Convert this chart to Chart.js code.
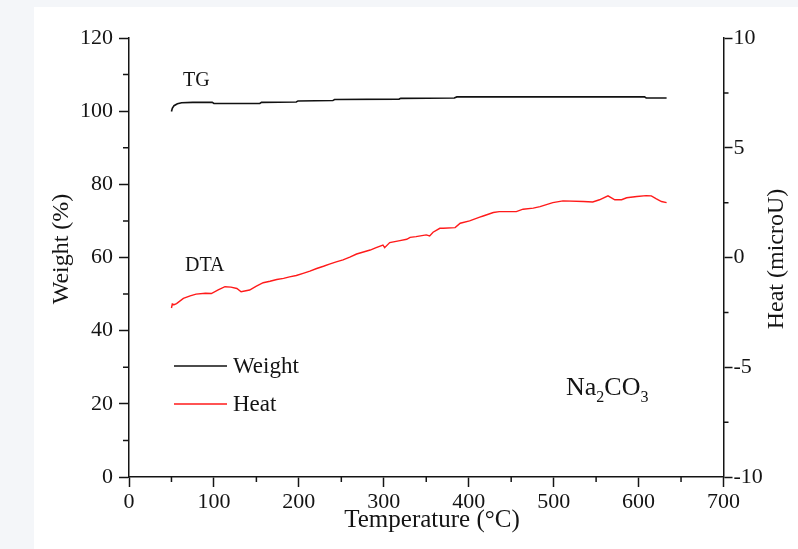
<!DOCTYPE html>
<html>
<head>
<meta charset="utf-8">
<title>TG / DTA of Na2CO3</title>
<script src="https://cdn.jsdelivr.net/npm/chart.js@4.4.1/dist/chart.umd.min.js"></script>
<style>
  html, body { margin: 0; padding: 0; background: #f4f6f9; }
  #wrap { position: relative; width: 798px; height: 549px; }
  canvas { display: block; }
</style>
</head>
<body>
<div id="wrap"><canvas id="chart" width="798" height="549"></canvas></div>
<script>
// Thermogravimetric (weight) trace, temperature in °C
const tgTemp   = [50, 51, 53, 57, 62, 75, 98, 100, 154, 156, 197, 199, 240, 242, 318, 320, 383, 386, 450, 607, 609, 633];
const tgWeight = [99.9, 100.8, 101.5, 102.0, 102.3, 102.4, 102.4, 102.1, 102.1, 102.4, 102.5, 102.8, 102.9, 103.2, 103.3, 103.5, 103.6, 103.9, 103.9, 103.9, 103.6, 103.6];

// Differential thermal analysis (heat flow) trace
const dtaTemp = [50, 51, 53, 56, 64, 72, 79, 90, 97, 105, 113, 120, 127, 132, 142, 150, 158, 166, 174, 182,
  189, 197, 205, 213, 221, 229, 236, 244, 252, 260, 268, 276, 284, 291, 299, 301, 307, 319, 327, 331,
  338, 350, 354, 358, 366, 370, 384, 390, 401, 413, 417, 429, 436, 456, 464, 476, 484, 499, 511, 535,
  546, 554, 564, 572, 580, 586, 598, 609, 615, 621, 627, 633];
const dtaHeat = [-2.3, -2.12, -2.15, -2.1, -1.86, -1.75, -1.67, -1.63, -1.64, -1.48, -1.33, -1.35, -1.41, -1.56, -1.48, -1.3, -1.15, -1.08, -1.0, -0.95,
  -0.88, -0.82, -0.72, -0.62, -0.5, -0.4, -0.3, -0.2, -0.11, 0.02, 0.16, 0.25, 0.34, 0.45, 0.57, 0.45, 0.68, 0.77, 0.83, 0.92,
  0.95, 1.03, 0.98, 1.15, 1.33, 1.33, 1.36, 1.56, 1.67, 1.84, 1.89, 2.05, 2.09, 2.09, 2.2, 2.25, 2.32, 2.5, 2.58, 2.55,
  2.53, 2.63, 2.81, 2.63, 2.63, 2.72, 2.78, 2.82, 2.81, 2.67, 2.55, 2.5];

// Axis tick values
const tempTicks   = [0, 100, 200, 300, 400, 500, 600, 700];
const weightTicks = [0, 20, 40, 60, 80, 100, 120];
const heatTicks   = [-10, -5, 0, 5, 10];

const SERIF = '"Liberation Serif", "Times New Roman", serif';
const INK = '#141414';

const toPoints = (xs, ys) => xs.map((x, i) => ({ x, y: ys[i] }));

// Page background and white panel
const panelPlugin = {
  id: 'panel',
  beforeDraw(chart) {
    const { ctx, width, height } = chart;
    ctx.save();
    ctx.fillStyle = '#f4f6f9';
    ctx.fillRect(0, 0, width, height);
    ctx.fillStyle = '#ffffff';
    ctx.fillRect(34, 7, width - 34, height - 7);
    ctx.restore();
  }
};

// Minor ticks halfway between the labelled ones
const minorTickPlugin = {
  id: 'minorTicks',
  afterDraw(chart) {
    const { ctx, scales } = chart;
    ctx.save();
    ctx.strokeStyle = INK;
    ctx.lineWidth = 1.5;
    ctx.beginPath();
    const x = scales.x, y = scales.y, y2 = scales.y2;
    for (let i = 0; i < tempTicks.length - 1; i++) {
      const px = x.getPixelForValue((tempTicks[i] + tempTicks[i + 1]) / 2);
      ctx.moveTo(px, x.top); ctx.lineTo(px, x.top + 5);
    }
    for (let i = 0; i < weightTicks.length - 1; i++) {
      const py = y.getPixelForValue((weightTicks[i] + weightTicks[i + 1]) / 2);
      ctx.moveTo(y.right, py); ctx.lineTo(y.right - 6, py);
    }
    for (let i = 0; i < heatTicks.length - 1; i++) {
      const py = y2.getPixelForValue((heatTicks[i] + heatTicks[i + 1]) / 2);
      ctx.moveTo(y2.left, py); ctx.lineTo(y2.left + 5, py);
    }
    ctx.stroke();
    ctx.restore();
  }
};

// Axis titles, curve labels, legend and sample name
const textPlugin = {
  id: 'texts',
  afterDraw(chart) {
    const { ctx } = chart;
    ctx.save();
    ctx.fillStyle = INK;

    // axis titles
    ctx.textAlign = 'center';
    ctx.textBaseline = 'middle';
    ctx.font = '25px ' + SERIF;
    ctx.fillText('Temperature (\u00B0C)', 432, 520);
    ctx.font = '24px ' + SERIF;
    ctx.save();
    ctx.translate(62, 249);
    ctx.rotate(-Math.PI / 2);
    ctx.fillText('Weight (%)', 0, 0);
    ctx.restore();
    ctx.save();
    ctx.translate(777, 259);
    ctx.rotate(-Math.PI / 2);
    ctx.fillText('Heat (microU)', 0, 0);
    ctx.restore();

    // curve labels
    ctx.font = '20px ' + SERIF;
    ctx.textAlign = 'left';
    ctx.textBaseline = 'alphabetic';
    ctx.fillText('TG', 183, 86);
    ctx.fillText('DTA', 185, 271);

    // legend
    ctx.font = '23px ' + SERIF;
    ctx.textBaseline = 'middle';
    const rows = [366, 404];
    chart.data.datasets.forEach((ds, i) => {
      ctx.strokeStyle = ds.borderColor;
      ctx.lineWidth = 1.5;
      ctx.beginPath();
      ctx.moveTo(174, rows[i]);
      ctx.lineTo(227, rows[i]);
      ctx.stroke();
      ctx.fillStyle = INK;
      ctx.fillText(ds.label, 233, rows[i] + 1);
    });

    // sample name with subscripts
    ctx.textBaseline = 'alphabetic';
    let cx = 566;
    const base = 395;
    const parts = [['Na', 26, 0], ['2', 16, 7], ['CO', 26, 0], ['3', 16, 7]];
    parts.forEach(([t, size, drop]) => {
      ctx.font = size + 'px ' + SERIF;
      ctx.fillText(t, cx, base + drop);
      cx += ctx.measureText(t).width;
    });
    ctx.restore();
  }
};

const tickFont = { family: SERIF, size: 22 };

new Chart(document.getElementById('chart'), {
  type: 'line',
  data: {
    datasets: [
      {
        label: 'Weight',
        data: toPoints(tgTemp, tgWeight),
        borderColor: '#111111',
        borderWidth: 1.6,
        pointRadius: 0,
        tension: 0,
        yAxisID: 'y'
      },
      {
        label: 'Heat',
        data: toPoints(dtaTemp, dtaHeat),
        borderColor: '#ff1a1a',
        borderWidth: 1.4,
        pointRadius: 0,
        tension: 0,
        yAxisID: 'y2'
      }
    ]
  },
  options: {
    responsive: false,
    animation: false,
    events: [],
    layout: { padding: { top: 38, left: 0, right: 0, bottom: 0 } },
    plugins: { legend: { display: false }, tooltip: { enabled: false } },
    scales: {
      x: {
        type: 'linear',
        min: 0, max: 700,
        afterBuildTicks: s => { s.ticks = tempTicks.map(v => ({ value: v })); },
        afterFit: s => { s.height = 72; },
        border: { display: true, color: INK, width: 1.5 },
        grid: { drawOnChartArea: false, drawTicks: true, tickLength: 10, tickColor: INK, tickWidth: 1.5 },
        ticks: { font: tickFont, color: INK, padding: 2, maxRotation: 0 }
      },
      y: {
        type: 'linear',
        position: 'left',
        min: 0, max: 120,
        afterBuildTicks: s => { s.ticks = weightTicks.map(v => ({ value: v })); },
        afterFit: s => { s.width = 129; },
        border: { display: true, color: INK, width: 1.5 },
        grid: { drawOnChartArea: false, drawTicks: true, tickLength: 10, tickColor: INK, tickWidth: 1.5 },
        ticks: { font: tickFont, color: INK, padding: 6 }
      },
      y2: {
        type: 'linear',
        position: 'right',
        min: -10, max: 10,
        afterBuildTicks: s => { s.ticks = heatTicks.map(v => ({ value: v })); },
        afterFit: s => { s.width = 74.5; },
        border: { display: true, color: INK, width: 1.5 },
        grid: { drawOnChartArea: false, drawTicks: true, tickLength: 9, tickColor: INK, tickWidth: 1.5 },
        ticks: { font: tickFont, color: INK, padding: 1 }
      }
    }
  },
  plugins: [panelPlugin, minorTickPlugin, textPlugin]
});
</script>
</body>
</html>
